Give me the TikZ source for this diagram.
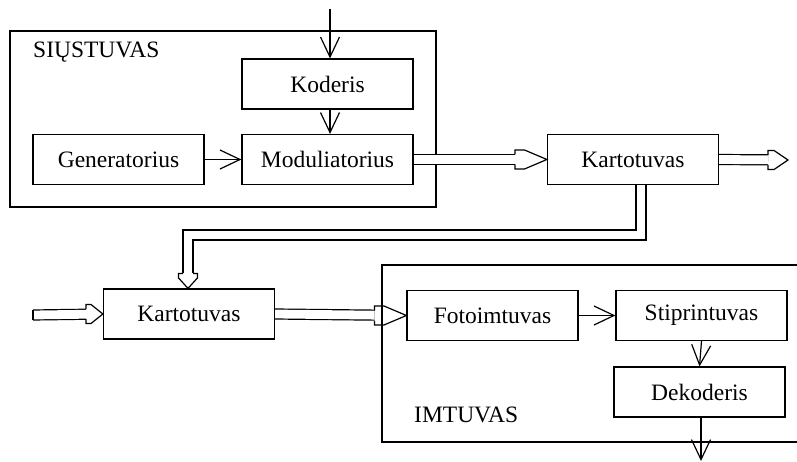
\documentclass[tikz,border=0pt]{standalone}
\usepackage{fontspec}
\setmainfont{Liberation Serif}
\usetikzlibrary{arrows.meta,calc}

% open "double" arrow head: tip at #1, direction #2 (degrees), length #3
\newcommand\hollowhead[3]{%
  \draw[headline, shift={(#1)}, rotate=#2]
    (-#3,5) -- (-#3,9.5) -- ({-0.7*#3},9.5) -- (0,0)
    -- ({-0.7*#3},-9.5) -- (-#3,-9.5) -- (-#3,-5);}

\tikzset{
  block/.style={draw, line width=1.2pt, minimum width=171pt, minimum height=50pt,
    inner sep=0pt, font=\fontsize{23.5}{28}\selectfont},
  frame/.style={draw, line width=1.2pt},
  sig/.style={line width=1.2pt, -{Straight Barb[length=20pt,width=19pt,line width=1.2pt]}},
  dbl/.style={line width=1.2pt, double=white, double distance=8.8pt, line join=miter},
  headline/.style={line width=1.2pt, line join=miter, line cap=butt},
  caption/.style={anchor=west, inner sep=0pt, font=\fontsize{23.5}{28}\selectfont}
}

\begin{document}
\begin{tikzpicture}[x=1pt, y=-1pt]
\useasboundingbox (0,0) rectangle (797,462);

% transmitter frame
\draw[frame] (10,31) rectangle (436,207);
\node[caption] (tx) at (33,52) {SIŲSTUVAS};

% receiver frame (open on the right)
\draw[frame] (800,265) -- (382,265) -- (382,442) -- (800,442);
\node[caption] (rx) at (414,415) {IMTUVAS};

% blocks
\node[block] (kod)  at (327.5,84)    {Koderis};
\node[block] (gen)  at (118.5,159.5) {Generatorius};
\node[block] (mod)  at (327.5,159.5) {Moduliatorius};
\node[block] (k1)   at (633,159.5)   {Kartotuvas};
\node[block] (k2)   at (189,314)     {Kartotuvas};
\node[block] (foto) at (492.5,315.5) {Fotoimtuvas};
\node[block] (stip) at (701.5,315.5) {Stiprintuvas};
\node[block] (dek)  at (699.5,392)   {Dekoderis};

% free ends
\coordinate (in1)  at (330,9);
\coordinate (in2)  at (33,315);
\coordinate (out1) at (788,160);
\coordinate (out2) at (701,461);
\coordinate (drop) at (641,0);
\coordinate (bendR) at (641,235);
\coordinate (bendL) at (188,235);

% single-line signals
\draw[sig] (in1) -- (in1 |- kod.north);
\draw[sig] (kod.south -| in1) -- (mod.north -| in1);
\draw[sig] (gen.east) -- (mod.west);
\draw[sig] (foto.east) -- (stip.west);
\draw[sig] (stip.south) -- (dek.north);
\draw[sig] (dek.south -| out2) -- (out2);

% optical (double) links
\draw[dbl, shorten >=32pt] (mod.east) -- (k1.west);
\hollowhead{k1.west}{0}{32}
\draw[dbl, shorten >=20pt] (k1.east) -- (out1);
\hollowhead{out1}{0}{20}
\draw[dbl, shorten >=15pt] (k1.south -| drop) -- (bendR) -- (bendL) -- (bendL |- k2.north);
\hollowhead{bendL |- k2.north}{-90}{15}
\draw[dbl, shorten >=17pt] (in2) -- (k2.west);
\draw[headline] ($(in2)+(0,-5)$) -- ($(in2)+(0,5)$);
\hollowhead{k2.west}{0}{17}
\draw[dbl, shorten >=32pt] (k2.east) -- (foto.west);
\hollowhead{foto.west}{0}{32}
\end{tikzpicture}
\end{document}
